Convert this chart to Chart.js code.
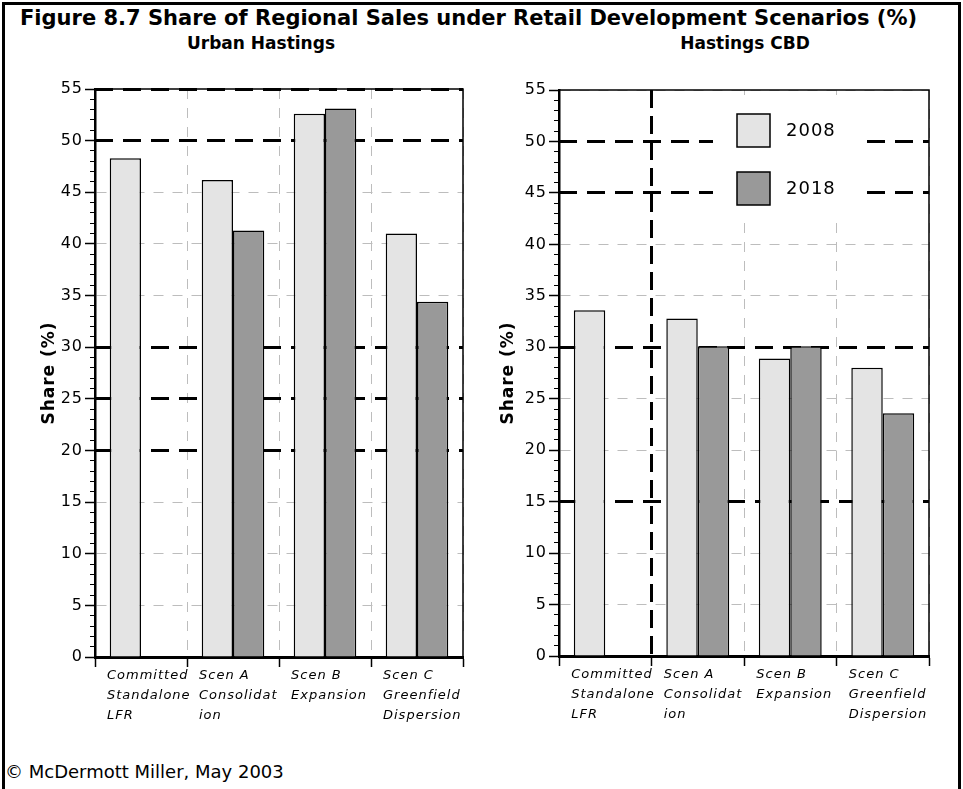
<!DOCTYPE html>
<html>
<head>
<meta charset="utf-8">
<script src="https://cdn.jsdelivr.net/npm/chart.js@4/dist/chart.umd.min.js"></script>
<style>
  html, body { margin: 0; padding: 0; background: #fff; }
  body { width: 963px; height: 789px; position: relative; overflow: hidden;
         font-family: "DejaVu Sans", Verdana, sans-serif; color: #000; }
  #frame { position: absolute; left: 2px; top: 2px; width: 953px; height: 800px; border: 3px solid #000; }
  .txt { position: absolute; white-space: nowrap; }
  #title { left: 20px; top: 6px; font-weight: bold; font-size: 21px; }
  .sub { top: 33px; font-weight: bold; font-size: 17px; transform: translateX(-50%); }
  #subA { left: 261px; }
  #subB { left: 745px; }
  #footer { left: 5px; top: 761px; font-size: 18px; }
  canvas { position: absolute; top: 70px; }
  #urban { left: 0; }
  #cbd { left: 480px; }
</style>
</head>
<body>
<div id="frame"></div>
<div id="title" class="txt">Figure 8.7 Share of Regional Sales under Retail Development Scenarios (%)</div>
<div id="subA" class="txt sub">Urban Hastings</div>
<div id="subB" class="txt sub">Hastings CBD</div>
<div id="footer" class="txt">© McDermott Miller, May 2003</div>
<canvas id="urban" width="480" height="700"></canvas>
<canvas id="cbd" width="483" height="700"></canvas>
<script>
// Scenario categories (multi-line tick labels)
const scenarios = [
  ['Committed', 'Standalone', 'LFR'],
  ['Scen A', 'Consolidat', 'ion'],
  ['Scen B', 'Expansion'],
  ['Scen C', 'Greenfield', 'Dispersion']
];
const years = ['2008', '2018'];

// Share of regional sales (%) - Urban Hastings
const urban2008 = [48.3, 46.2, 52.6, 41.0];
const urban2018 = [null, 41.3, 53.1, 34.4];

// Share of regional sales (%) - Hastings CBD
const cbd2008 = [33.6, 32.8, 28.9, 28.0];
const cbd2018 = [null, 30.1, 30.1, 23.6];

// Y axis range and ticks
const yMin = 0, yMax = 55, yStep = 5;

// Emphasised (heavy dashed) reference lines on each panel
const urbanRefLines = [0, 20, 25, 30, 50, 55];
const cbdRefLines = [15, 30, 45, 50];
// Emphasised category boundary (grid line index) on the CBD panel
const cbdRefBoundaries = [1];

const COLOR_2008 = '#e4e4e4';
const COLOR_2018 = '#999999';
const LIGHT_GRID = '#bdbdbd';

Chart.defaults.font.family = '"DejaVu Sans", Verdana, sans-serif';
Chart.defaults.color = '#000';

const spacingPlugin = {
  id: 'spacing',
  beforeUpdate(chart) { chart.ctx.letterSpacing = '1px'; },
  beforeDraw(chart) { chart.ctx.letterSpacing = '1px'; }
};

const frameBox = {
  id: 'frameBox',
  afterDatasetsDraw(chart) {
    const { ctx, chartArea: a } = chart;
    ctx.save();
    ctx.strokeStyle = '#000';
    ctx.lineWidth = 1.5;
    ctx.setLineDash([]);
    ctx.beginPath();
    ctx.moveTo(a.left, a.top);
    ctx.lineTo(a.right, a.top);
    ctx.lineTo(a.right, a.bottom);
    ctx.stroke();
    ctx.restore();
  }
};

const boxLegend = {
  id: 'boxLegend',
  afterDatasetsDraw(chart, args, opts) {
    if (!opts.show) return;
    const { ctx, chartArea: a } = chart;
    ctx.save();
    ctx.fillStyle = '#fff';
    ctx.fillRect(a.left + 154, a.top + 5, 149, 122);
    chart.data.datasets.forEach((ds, i) => {
      const bx = a.left + 178, by = a.top + 24 + i * 58;
      ctx.fillStyle = ds.backgroundColor;
      ctx.fillRect(bx, by, 33, 33);
      ctx.strokeStyle = '#000';
      ctx.lineWidth = 1.5;
      ctx.strokeRect(bx, by, 33, 33);
      ctx.fillStyle = '#000';
      ctx.font = '18px "DejaVu Sans", Verdana, sans-serif';
      ctx.textBaseline = 'middle';
      ctx.textAlign = 'left';
      ctx.fillText(ds.label, bx + 49, by + 17);
    });
    ctx.restore();
  }
};

function buildChart(canvasId, d2008, d2018, refLines, refBounds, layout, titlePad, showLegend) {
  const isRef = v => refLines.includes(v);
  return new Chart(document.getElementById(canvasId), {
    type: 'bar',
    data: {
      labels: scenarios,
      datasets: [
        { label: years[0], data: d2008, backgroundColor: COLOR_2008, borderColor: '#000', borderWidth: 1.5 },
        { label: years[1], data: d2018, backgroundColor: COLOR_2018, borderColor: '#000', borderWidth: 1.5 }
      ]
    },
    options: {
      responsive: false,
      animation: false,
      devicePixelRatio: 1,
      categoryPercentage: 0.68,
      barPercentage: 1.0,
      layout: { padding: layout.padding },
      plugins: {
        legend: { display: false },
        tooltip: { enabled: false },
        boxLegend: { show: showLegend }
      },
      scales: {
        x: {
          type: 'category',
          position: 'bottom',
          weight: 1,
          offset: true,
          grid: {
            offset: true,
            color: c => (c.index === 0 || c.index === scenarios.length || refBounds.includes(c.index)) ? 'rgba(0,0,0,0)' : LIGHT_GRID,
            lineWidth: 1,
            tickLength: 10,
            tickColor: '#000',
            tickWidth: 1.5,
            tickBorderDash: []
          },
          border: { display: true, color: '#000', width: 3, dash: [10, 9] },
          ticks: {
            align: 'start',
            labelOffset: -34,
            padding: -1,
            maxRotation: 0,
            autoSkip: false,
            font: { size: 13, style: 'italic', lineHeight: '20px' }
          },
          afterFit: s => { s.height = layout.xHeight; s.paddingLeft = 0; s.paddingRight = 0; }
        },
        xRef: {
          type: 'category',
          position: 'bottom',
          weight: 0,
          offset: true,
          grid: {
            offset: true,
            color: c => refBounds.includes(c.index) ? '#000' : 'rgba(0,0,0,0)',
            lineWidth: 3,
            drawTicks: false
          },
          border: { display: false, dash: [18, 8] },
          ticks: { display: false },
          afterFit: s => { s.height = 0; s.paddingLeft = 0; s.paddingRight = 0; }
        },
        y: {
          type: 'linear',
          position: 'left',
          weight: 2,
          min: yMin,
          max: yMax,
          ticks: { stepSize: yStep, padding: 2, font: { size: 16 } },
          grid: {
            color: c => isRef(c.tick.value) ? 'rgba(0,0,0,0)' : LIGHT_GRID,
            lineWidth: 1,
            tickLength: 10,
            tickColor: '#000',
            tickWidth: 1.5,
            tickBorderDash: []
          },
          border: { display: true, color: '#000', width: 2.5, dash: [10, 9] },
          title: {
            display: true,
            text: 'Share (%)',
            font: { size: 17, weight: 'bold' },
            padding: { top: titlePad, bottom: 0 }
          },
          afterFit: s => { s.width = layout.yWidth; }
        },
        yRef: {
          type: 'linear',
          position: 'left',
          weight: 0,
          min: yMin,
          max: yMax,
          ticks: { display: false, stepSize: yStep },
          grid: {
            color: c => (isRef(c.tick.value) && c.tick.value !== yMin) ? '#000' : 'rgba(0,0,0,0)',
            lineWidth: 3,
            drawTicks: false
          },
          border: { display: false, dash: [18, 10] },
          afterFit: s => { s.width = 0; }
        },
        yMinor: {
          type: 'linear',
          position: 'left',
          weight: 1,
          min: yMin,
          max: yMax,
          ticks: { display: false, stepSize: 1 },
          grid: {
            drawOnChartArea: false,
            drawTicks: true,
            tickLength: 5,
            tickColor: '#000',
            tickWidth: 1,
            color: '#000'
          },
          border: { display: false },
          afterFit: s => { s.width = 0; }
        }
      }
    },
    plugins: [spacingPlugin, frameBox, boxLegend]
  });
}

buildChart('urban', urban2008, urban2018, urbanRefLines, [],
  { padding: { top: 19, right: 17, left: 0, bottom: 0 }, yWidth: 95, xHeight: 113 }, 39, false);

buildChart('cbd', cbd2008, cbd2018, cbdRefLines, cbdRefBoundaries,
  { padding: { top: 20, right: 34, left: 0, bottom: 0 }, yWidth: 79, xHeight: 114 }, 18, true);
</script>
</body>
</html>
